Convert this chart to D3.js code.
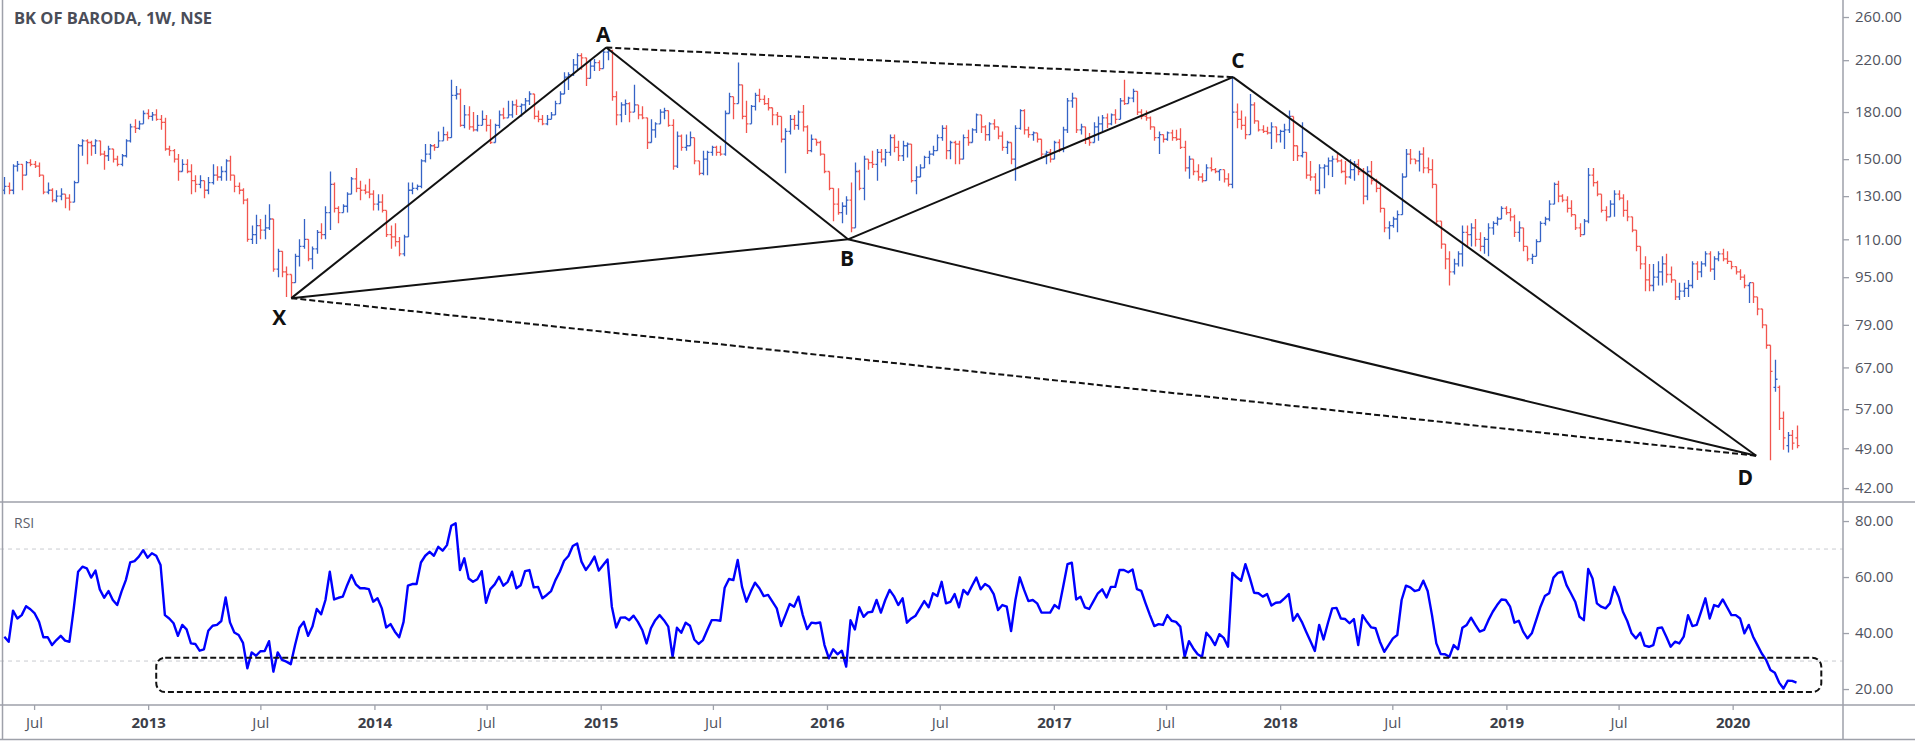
<!DOCTYPE html>
<html>
<head>
<meta charset="utf-8">
<script src="https://cdn.jsdelivr.net/npm/d3@7"></script>
<style>
  body { margin: 0; background: #fff; }
  svg { display: block; font-family: "Open Sans", "DejaVu Sans", sans-serif; }
</style>
</head>
<body>
<svg id="chart"></svg>
<script>
const width = 1915, height = 742;
const axisX = 1843, paneSplit = 502, rsiBottom = 705, frameBottom = 739.5;

// weekly bars, first week below, one bar per week after it
const firstWeek = "2012-05-14";

const opens = [
133,135,133,146,147,141,148,147,146,141,132,133,128,130,131,129,127,137,158,161,
160,158,161,153,152,156,150,147,152,161,170,169,172,179,177,178,175,173,156,155,
150,143,147,143,138,136,138,133,137,141,140,143,149,141,135,133,128,110,112,116,
114,115,119,98,105,97,96,93,103,107,110,102,106,113,112,122,136,124,122,125,
131,139,134,133,132,131,126,127,123,112,111,109,104,111,133,134,135,149,153,158,
157,161,165,163,192,193,171,178,170,168,171,175,171,160,171,178,176,178,185,184,
185,188,193,177,175,172,175,178,186,193,206,208,216,224,222,205,215,218,213,227,
228,191,178,185,186,180,185,178,176,160,168,172,180,181,171,146,164,157,158,163,
149,142,150,154,157,154,153,179,191,186,200,177,172,184,192,189,186,183,178,177,
162,167,175,171,180,170,155,162,160,153,143,134,126,122,125,128,115,143,134,150,
148,147,154,150,154,163,157,152,158,159,138,140,145,151,153,155,163,169,155,160,
159,150,163,160,168,178,170,165,172,170,164,157,160,150,169,181,168,165,166,162,
153,154,150,160,156,168,188,190,168,170,162,160,170,172,176,172,178,175,188,186,
190,195,180,177,176,170,163,165,162,166,163,162,157,145,150,143,140,138,145,144,
143,144,139,136,180,175,171,165,185,174,168,167,166,170,165,167,168,177,158,152,
154,141,140,133,145,146,149,150,149,143,140,144,147,143,130,143,138,134,124,115,
116,119,121,140,153,150,149,153,145,144,136,118,108,102,97,100,104,113,112,115,
110,107,110,115,117,119,124,122,120,113,115,107,102,103,109,117,119,126,136,130,
128,124,121,115,112,118,141,137,131,123,120,126,131,129,123,120,114,107,100,94,
92,95,97,100,96,94,88,90,91,92,100,97,100,104,98,102,104,102,101,99,
97,95,92,93,88,84,79,73,62,62,55,49.5,51.5,51
];

const highs = [
140,137,147,149,147,149,150,149,148,141,137,134,133,134,131,131,138,159,162,162,
161,162,161,155,158,156,152,153,162,172,175,174,181,182,180,182,178,176,158,156,
153,150,150,147,141,141,138,140,147,146,146,150,152,141,137,134,129,116,121,119,
121,126,119,106,105,99,96,104,110,119,110,107,114,117,125,143,137,125,126,132,
140,145,138,136,139,133,131,131,123,116,117,111,112,137,137,136,150,159,159,159,
167,170,167,204,199,197,185,184,180,178,181,178,175,172,181,183,188,188,189,
186,190,195,193,181,178,178,180,188,195,210,210,221,226,226,222,221,221,220,229,
231,229,195,187,189,187,200,185,184,176,175,173,182,183,181,175,167,165,165,167,
163,149,155,155,158,158,158,181,194,191,218,200,188,185,194,197,192,190,183,180,
177,169,178,178,181,185,171,165,162,161,153,143,134,134,127,130,137,148,144,152,
150,155,156,156,156,165,165,161,161,160,159,146,147,152,155,158,165,171,171,161,
161,161,165,168,169,179,178,171,173,175,170,167,161,160,171,182,182,170,167,166,
162,155,156,161,162,170,190,194,190,172,170,166,173,177,178,179,179,182,190,204,
191,197,195,182,181,177,170,167,165,167,168,168,169,161,152,150,147,142,147,151,
145,144,144,142,207,186,181,177,193,187,174,171,170,173,170,168,172,181,177,158,
173,154,149,142,147,147,151,152,153,150,149,150,149,150,145,146,149,139,136,124,
118,120,123,142,156,156,150,155,157,151,150,136,118,108,105,102,105,116,116,117,
119,113,111,117,118,120,125,125,124,121,118,115,107,104,110,118,120,128,137,
138,131,130,128,121,117,119,145,145,138,131,125,128,133,133,131,128,120,114,107,
103,100,100,101,103,104,99,94,93,93,94,101,101,101,105,105,103,105,106,105,
101,99,98,96,93,93,88,84,79,73,69,62.5,56.5,52.2,52.6,53.5
];

const lows = [
131,131,131,143,133,141,146,145,140,131,131,127,127,128,124,123,127,137,152,147,
152,153,152,144,149,148,146,146,151,160,166,168,172,175,174,174,168,155,152,148,
138,143,142,131,132,134,129,131,136,138,138,138,138,132,131,126,109,108,108,110,
110,114,97,95,95,88,87.6,93,99,106,101,98,104,110,110,114,122,117,122,122,
131,132,128,131,129,123,123,122,111,106,107,103,103,111,131,133,134,148,150,155,
157,161,161,163,189,170,169,168,167,167,171,167,159,160,169,175,176,176,178,
177,180,185,175,173,171,171,175,178,186,193,196,207,212,212,199,205,211,211,213,
220,188,171,173,178,173,180,175,175,156,160,163,172,175,170,144,145,155,155,158,
147,141,141,141,152,152,152,152,179,175,186,175,166,172,181,187,185,181,171,171,
160,142,165,168,168,167,153,154,158,152,142,133,118,121,117,121,113,115,133,128,
144,145,138,148,146,152,154,149,149,151,137,131,140,145,147,152,155,161,150,150,
147,147,150,158,160,166,166,161,161,168,162,155,153,147,138,168,165,163,161,160,
151,147,148,150,154,154,166,183,166,165,159,158,160,161,167,169,171,172,175,185,
186,187,178,175,174,168,161,153,160,161,161,161,156,143,139,141,138,137,138,143,
142,138,137,135,134,169,168,162,165,172,167,166,165,156,160,160,156,166,149,149,
151,139,138,131,131,134,141,140,148,142,136,139,138,141,126,128,136,132,122,113,
110,115,113,121,140,147,147,143,142,142,134,116,106,98,92,96,99,99,107,107,
107,105,104,103,112,116,119,121,118,111,109,105,101,100,103,109,116,118,126,
127,127,122,120,114,111,112,117,135,130,122,118,120,120,128,120,118,113,105,98,
90,90,90,92,92,93,93,87,87,88,88,91,94,95,99,97,94,101,101,100,
98,96,94,91,86,86,82,78,72,46.8,61,52.6,48.7,48.2,48.7,49
];

const closes = [
135,133,146,147,141,148,147,146,141,132,133,128,130,131,129,127,137,158,161,160,
158,161,153,152,156,150,147,152,161,170,169,172,179,177,178,175,173,156,155,150,
143,147,143,138,136,138,133,137,141,140,143,149,141,135,133,128,110,112,116,114,
115,119,98,105,97,96,93,103,107,110,102,106,113,112,122,136,124,122,125,131,
139,134,133,132,131,126,127,123,112,111,109,104,111,133,134,135,149,153,158,157,
161,165,163,192,193,171,178,170,168,171,175,171,160,171,178,176,178,185,184,
185,188,193,177,175,172,175,178,186,193,206,208,216,224,222,205,215,218,213,227,
228,191,178,185,186,180,185,178,176,160,168,172,180,181,171,146,164,157,158,163,
149,142,150,154,157,154,153,179,191,186,200,177,172,184,192,189,186,183,178,177,
162,167,175,171,180,170,155,162,160,153,143,134,126,122,125,128,115,143,134,150,
148,147,154,150,154,163,157,152,158,159,138,140,145,151,153,155,163,169,155,160,
159,150,163,160,168,178,170,165,172,170,164,157,160,150,169,181,168,165,166,162,
153,154,150,160,156,168,188,190,168,170,162,160,170,172,176,172,178,175,188,186,
190,195,180,177,176,170,163,165,162,166,163,162,157,145,150,143,140,138,145,144,
143,144,139,136,180,175,171,165,185,174,168,167,166,170,165,167,168,177,158,152,
154,141,140,133,145,146,149,150,149,143,140,144,147,143,130,143,138,134,124,115,
116,119,121,140,153,150,149,153,145,144,136,118,108,102,97,100,104,113,112,115,
110,107,110,115,117,119,124,122,120,113,115,107,102,103,109,117,119,126,136,
130,128,124,121,115,112,118,141,137,131,123,120,126,131,129,123,120,114,107,100,
94,92,95,97,100,96,94,88,90,91,92,100,97,100,104,98,102,104,102,101,
99,97,95,92,93,88,84,79,73,66,64,55,51,51.5,50,49.5
];

const rsi = [
38.7,36.9,48.0,45.2,46.4,49.6,48.5,47.0,44.0,38.5,38.5,35.7,37.5,39.0,37.3,36.9,48.8,61.9,63.7,63.1,
59.8,62.3,55.6,52.6,55.0,51.8,50.0,54.8,58.9,65.2,65.7,67.3,69.6,66.9,68.5,67.6,64.3,46.4,45.2,43.5,
39.0,42.9,41.3,36.3,36.1,33.7,34.2,40.8,42.6,42.9,44.3,52.7,43.8,40.2,39.3,36.5,27.4,33.1,31.9,33.5,
33.6,37.1,26.2,33.1,30.4,29.8,28.9,35.7,41.9,44.0,39.0,42.3,48.6,46.7,51.8,61.9,52.0,52.6,53.0,57.1,
60.7,57.4,56.0,56.0,55.7,51.2,52.4,48.8,42.0,43.2,40.5,38.5,44.0,56.9,57.5,57.5,65.2,67.6,69.0,67.6,
70.8,69.4,71.4,78.3,79.2,62.5,66.7,59.5,58.3,59.2,62.1,50.8,55.7,57.4,60.1,56.9,58.3,61.9,56.0,57.1,
62.1,62.5,56.3,56.5,52.4,53.6,55.0,58.9,61.9,65.8,67.5,71.1,72.0,65.5,62.5,64.6,67.3,62.3,64.3,66.3,
49.4,42.0,45.5,45.6,44.6,46.2,44.0,41.1,36.3,41.7,44.6,46.4,44.6,42.3,31.5,41.9,40.1,43.7,42.6,37.7,
36.1,37.5,41.1,44.6,44.6,44.4,56.2,59.3,58.9,66.1,56.5,51.2,54.8,58.0,56.0,53.2,53.6,51.2,48.8,42.5,
46.4,50.4,49.4,53.0,46.4,41.4,43.7,43.5,43.8,35.7,31.0,34.2,32.4,33.7,28.0,44.6,41.3,49.2,45.8,47.4,
47.6,51.8,47.3,51.8,55.4,53.2,50.0,52.4,43.7,45.2,46.2,48.8,51.4,49.2,54.2,53.2,58.3,50.6,51.1,53.9,
49.2,55.4,53.8,56.9,59.8,55.6,57.5,56.5,53.9,48.2,50.0,49.4,40.7,51.8,59.9,55.4,51.4,51.8,50.6,47.3,
47.3,47.3,50.0,48.8,56.5,64.6,65.1,52.0,53.0,49.2,48.6,51.4,54.2,55.6,52.7,56.5,56.5,62.5,62.5,61.7,
62.7,55.7,55.1,50.6,46.4,42.5,43.2,42.9,46.4,44.4,44.0,42.3,31.5,37.1,34.5,32.4,31.5,40.1,38.3,35.7,
39.6,38.3,35.1,61.5,59.9,58.7,64.6,59.8,54.4,54.2,53.0,53.9,49.8,50.8,51.0,52.4,53.9,44.4,46.8,44.0,
40.5,37.1,33.6,42.9,37.7,43.5,48.8,49.0,45.2,45.0,43.5,45.0,35.7,46.4,44.0,42.0,41.7,36.9,33.3,35.7,
38.1,39.3,51.8,56.9,56.3,55.0,55.4,58.7,55.0,46.4,36.3,32.5,32.4,31.5,35.7,34.2,41.9,42.9,45.5,42.9,
40.5,41.1,44.6,47.6,50.0,52.0,51.8,49.4,43.7,44.4,40.5,38.1,39.9,44.6,49.4,53.2,54.2,59.8,61.5,61.9,
57.1,54.2,51.2,45.8,44.6,62.9,59.5,50.6,49.4,48.8,50.6,56.5,53.0,47.6,44.3,39.9,38.1,40.1,35.5,35.1,
35.7,41.7,42.0,38.7,35.1,36.9,36.3,38.7,46.4,42.5,42.9,47.6,52.4,45.2,50.0,49.4,52.0,49.2,46.4,46.4,
45.2,39.9,42.9,38.7,35.7,32.7,30.4,26.8,25.8,22.3,20.2,23.0,22.9,22.3
];

const priceTicks = [260, 220, 180, 150, 130, 110, 95, 79, 67, 57, 49, 42];
const rsiTicks = [80, 60, 40, 20];
const rsiBands = [70, 30];
const timeTicks = ["2012-07-01", "2013-01-01", "2013-07-01", "2014-01-01", "2014-07-01",
  "2015-01-01", "2015-07-01", "2016-01-01", "2016-07-01", "2017-01-01", "2017-07-01",
  "2018-01-01", "2018-07-01", "2019-01-01", "2019-07-01", "2020-01-01"];

// XABCD pattern points
const patternNames = ["X", "A", "B", "C", "D"];
const patternDates = ["2013-08-20", "2015-01-10", "2016-02-04", "2017-10-17", "2020-02-08"];
const patternPrices = [87.6, 231, 110, 206, 47.6];
const solidLegs = [["X", "A"], ["A", "B"], ["B", "C"], ["C", "D"], ["X", "B"], ["B", "D"]];
const dashedLegs = [["X", "D"], ["A", "C"]];

// dashed box round the oversold RSI zone
const boxDates = ["2013-01-14", "2020-05-23"];
const boxRsi = [31.2, 18.9];

const parse = d3.utcParse("%Y-%m-%d");
const start = parse(firstWeek);
const bars = closes.map((c, i) => ({
  date: d3.utcDay.offset(start, 7 * i),
  o: opens[i], h: highs[i], l: lows[i], c: c
}));

const x = d3.scaleUtc()
  .domain([parse("2012-05-07"), parse("2020-06-27")])
  .range([0, axisX]);
const yPrice = d3.scaleLog().domain([39.8, 277.7]).range([paneSplit, 0]);
const yRsi = d3.scaleLinear().domain([14.3, 86.8]).range([rsiBottom, paneSplit]);

const svg = d3.select("#chart").attr("width", width).attr("height", height);
svg.append("rect").attr("width", width).attr("height", height).attr("fill", "#fff");

// RSI guide lines
svg.append("g")
  .selectAll("line")
  .data(rsiBands)
  .join("line")
  .attr("x1", 0).attr("x2", axisX)
  .attr("y1", (d) => yRsi(d)).attr("y2", (d) => yRsi(d))
  .attr("stroke", "#c9cbd0").attr("stroke-width", 1).attr("stroke-dasharray", "4,4");

// OHLC bars
svg.append("g")
  .attr("fill", "none")
  .attr("stroke-width", 1.3)
  .selectAll("path")
  .data(bars)
  .join("path")
  .attr("stroke", (d) => (d.c >= d.o ? "#3563c6" : "#f2554e"))
  .attr("d", (d) => {
    const cx = Math.round(x(d.date)) + 0.5;
    return `M${cx},${yPrice(d.h)}V${yPrice(d.l)}` +
      `M${cx - 2},${yPrice(d.o)}H${cx}` +
      `M${cx},${yPrice(d.c)}H${cx + 2}`;
  });

// pattern
const pts = {};
patternNames.forEach((n, i) => {
  pts[n] = { x: x(parse(patternDates[i])), y: yPrice(patternPrices[i]) };
});

const legs = svg.append("g").attr("stroke", "#111").attr("stroke-width", 2).attr("fill", "none");
legs.selectAll("line.solid")
  .data(solidLegs)
  .join("line")
  .attr("class", "solid")
  .attr("x1", (d) => pts[d[0]].x).attr("y1", (d) => pts[d[0]].y)
  .attr("x2", (d) => pts[d[1]].x).attr("y2", (d) => pts[d[1]].y);
legs.selectAll("line.dash")
  .data(dashedLegs)
  .join("line")
  .attr("class", "dash")
  .attr("stroke-dasharray", "6,3")
  .attr("x1", (d) => pts[d[0]].x).attr("y1", (d) => pts[d[0]].y)
  .attr("x2", (d) => pts[d[1]].x).attr("y2", (d) => pts[d[1]].y);

const labelOffset = { X: [-12, 19], A: [-3, -14], B: [-1, 19], C: [5, -17], D: [-11, 21] };
svg.append("g")
  .selectAll("text")
  .data(patternNames)
  .join("text")
  .attr("x", (d) => pts[d].x + labelOffset[d][0])
  .attr("y", (d) => pts[d].y + labelOffset[d][1])
  .attr("text-anchor", "middle")
  .attr("dominant-baseline", "central")
  .attr("font-size", 21)
  .attr("font-weight", 700)
  .attr("fill", "#111")
  .text((d) => d);

// RSI line
svg.append("path")
  .datum(rsi)
  .attr("fill", "none")
  .attr("stroke", "#0000ff")
  .attr("stroke-width", 2.4)
  .attr("stroke-linejoin", "round")
  .attr("d", d3.line().x((d, i) => x(bars[i].date)).y((d) => yRsi(d)));

// oversold box
const bx0 = x(parse(boxDates[0])), bx1 = x(parse(boxDates[1]));
svg.append("rect")
  .attr("x", bx0).attr("y", yRsi(boxRsi[0]))
  .attr("width", bx1 - bx0).attr("height", yRsi(boxRsi[1]) - yRsi(boxRsi[0]))
  .attr("rx", 9).attr("ry", 9)
  .attr("fill", "none").attr("stroke", "#111").attr("stroke-width", 2)
  .attr("stroke-dasharray", "6,3");

// frame
const frame = svg.append("g").attr("stroke", "#9ea1aa").attr("stroke-width", 1.5);
frame.append("line").attr("x1", 2.5).attr("x2", 2.5).attr("y1", 0).attr("y2", frameBottom);
frame.append("line").attr("x1", axisX).attr("x2", axisX).attr("y1", 0).attr("y2", frameBottom);
[paneSplit, rsiBottom, frameBottom].forEach((yy) => {
  frame.append("line").attr("x1", 0).attr("x2", width).attr("y1", yy).attr("y2", yy);
});

// price axis
const priceAxis = svg.append("g")
  .attr("transform", `translate(${axisX},0)`)
  .call(d3.axisRight(yPrice).tickValues(priceTicks).tickSize(6).tickPadding(6)
    .tickFormat((d) => d.toFixed(2)));
priceAxis.select(".domain").remove();

const rsiAxis = svg.append("g")
  .attr("transform", `translate(${axisX},0)`)
  .call(d3.axisRight(yRsi).tickValues(rsiTicks).tickSize(6).tickPadding(6)
    .tickFormat((d) => d.toFixed(2)));
rsiAxis.select(".domain").remove();

[priceAxis, rsiAxis].forEach((g) => {
  g.selectAll("line").attr("stroke", "#9ea1aa").attr("stroke-width", 1.3);
  g.selectAll("text").attr("font-size", 15).attr("fill", "#50535e")
    .attr("font-family", "\"Open Sans\", sans-serif");
});

// time axis
const timeAxis = svg.append("g")
  .attr("transform", `translate(0,${rsiBottom})`)
  .call(d3.axisBottom(x).tickValues(timeTicks.map(parse)).tickSize(5).tickPadding(7)
    .tickFormat((d) => (d.getUTCMonth() === 0 ? d3.utcFormat("%Y")(d) : "Jul")));
timeAxis.select(".domain").remove();
timeAxis.selectAll("line").attr("stroke", "#9ea1aa").attr("stroke-width", 1.3);
timeAxis.selectAll("text")
  .attr("font-size", 15)
  .attr("font-family", "\"Open Sans\", sans-serif")
  .attr("font-weight", (d) => (d.getUTCMonth() === 0 ? 700 : 400))
  .attr("fill", (d) => (d.getUTCMonth() === 0 ? "#3b3e48" : "#50535e"));

// titles
svg.append("text")
  .attr("x", 14).attr("y", 17)
  .attr("dominant-baseline", "central")
  .attr("font-size", 16.5).attr("font-weight", 700).attr("fill", "#4a4d58")
  .text("BK OF BARODA, 1W, NSE");

svg.append("text")
  .attr("x", 14).attr("y", 522)
  .attr("dominant-baseline", "central")
  .attr("font-size", 14).attr("fill", "#5d606b")
  .text("RSI");
</script>
</body>
</html>
